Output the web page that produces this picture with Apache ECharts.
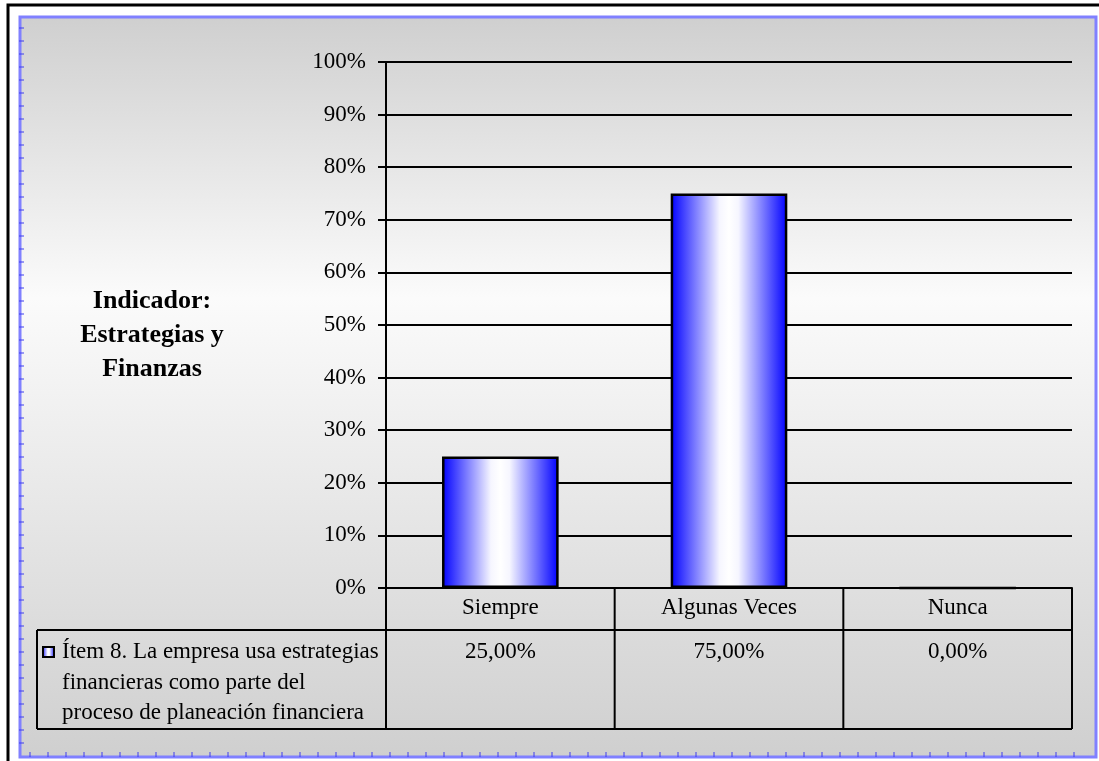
<!DOCTYPE html>
<html>
<head>
<meta charset="utf-8">
<title>Indicador: Estrategias y Finanzas</title>
<script src="https://cdn.jsdelivr.net/npm/echarts@6/dist/echarts.min.js"></script>
<style>
  html, body { margin: 0; padding: 0; background: #ffffff; }
  #chart { width: 1099px; height: 761px; }
</style>
</head>
<body>
<div id="chart"></div>
<script>
// Categories and percentages for item 8
const categories = ['Siempre', 'Algunas Veces', 'Nunca'];
const values = [25, 75, 0];
const yMin = 0;
const yMax = 100;
const yStep = 10;
const legendLines = ['Ítem 8. La empresa usa estrategias', 'financieras como parte del', 'proceso de planeación financiera'];
const titleLines = ['Indicador:', 'Estrategias y', 'Finanzas'];

const serif = "'Liberation Serif', 'Times New Roman', serif";
const barFill = {
  type: 'linear', x: 0, y: 0, x2: 1, y2: 0,
  colorStops: [
    { offset: 0, color: '#0000ff' },
    { offset: 0.42, color: '#f6f6ff' },
    { offset: 0.5, color: '#ffffff' },
    { offset: 0.58, color: '#f6f6ff' },
    { offset: 1, color: '#0000ff' }
  ]
};

const chart = echarts.init(document.getElementById('chart'), null, { renderer: 'canvas' });

chart.setOption({
  animation: false,
  backgroundColor: '#ffffff',
  grid: { left: 386, right: 27, top: 62, bottom: 173, containLabel: false },
  xAxis: {
    type: 'category',
    data: categories,
    axisLine: { show: true, lineStyle: { color: '#000', width: 2 } },
    axisTick: { show: false },
    axisLabel: { color: '#000', fontFamily: serif, fontSize: 23, margin: 8 },
    splitLine: { show: false }
  },
  yAxis: {
    type: 'value',
    min: yMin, max: yMax, interval: yStep,
    axisLine: { show: true, lineStyle: { color: '#000', width: 2 } },
    axisTick: { show: true, length: 8, lineStyle: { color: '#000', width: 2 } },
    axisLabel: { color: '#000', fontFamily: serif, fontSize: 23, margin: 20, formatter: '{value}%' },
    splitLine: { show: true, lineStyle: { color: '#000', width: 2 } }
  },
  series: [{
    type: 'bar',
    name: legendLines.join(' '),
    data: values,
    barWidth: '51%',
    itemStyle: { color: barFill, borderColor: '#000', borderWidth: 2.5 }
  }]
});

// Data table under the plot, placed from the axis scales
function drawTable() {
  const centers = categories.map((c, i) => chart.convertToPixel({ xAxisIndex: 0 }, i));
  const band = centers.length > 1 ? centers[1] - centers[0] : 200;
  const edges = [centers[0] - band / 2].concat(centers.map(c => c + band / 2));
  const y0 = chart.convertToPixel({ yAxisIndex: 0 }, yMin);
  const rowTop = y0 + 42;
  const rowBottom = y0 + 141;
  const tableLeft = 37;
  const line = (x1, y1, x2, y2) => ({
    type: 'line', z: 50,
    shape: { x1, y1, x2, y2 },
    style: { stroke: '#000', lineWidth: 2 }
  });

  const els = [
    // outer frame
    { type: 'rect', z: -30, shape: { x: 8, y: 5, width: 1200, height: 900 },
      style: { fill: '#ffffff', stroke: '#000', lineWidth: 3 } },
    // shaded plot canvas
    { type: 'rect', z: -20, shape: { x: 20, y: 17, width: 1076, height: 740 },
      style: {
        fill: { type: 'linear', x: 0, y: 0, x2: 0, y2: 1, colorStops: [
          { offset: 0, color: '#cfcfcf' },
          { offset: 0.38, color: '#fbfbfb' },
          { offset: 1, color: '#cfcfcf' }
        ] },
        stroke: '#8080ff', lineWidth: 3
      } }
  ];

  // small ruler marks on the canvas frame (left and bottom edges)
  for (let y = 28; y < 752; y += 13) {
    els.push({ type: 'line', z: -19, shape: { x1: 19, y1: y, x2: 24, y2: y },
      style: { stroke: '#3c3cf0', lineWidth: 1 } });
  }
  for (let x = 30; x < 1092; x += 18) {
    els.push({ type: 'line', z: -19, shape: { x1: x, y1: 752, x2: x, y2: 757 },
      style: { stroke: '#3c3cf0', lineWidth: 1 } });
  }

  edges.forEach(x => els.push(line(x, y0, x, rowBottom)));
  els.push(line(tableLeft, rowTop, edges[edges.length - 1], rowTop));
  els.push(line(tableLeft, rowBottom, edges[edges.length - 1], rowBottom));
  els.push(line(tableLeft, rowTop, tableLeft, rowBottom));

  values.forEach((v, i) => {
    els.push({
      type: 'text', z: 50,
      style: {
        x: centers[i], y: rowTop + 10,
        text: v.toFixed(2).replace('.', ',') + '%',
        textAlign: 'center', textVerticalAlign: 'top',
        font: '23px ' + serif, fill: '#000'
      }
    });
  });

  // legend key
  els.push({
    type: 'rect', z: 50,
    shape: { x: 43, y: 647, width: 11, height: 10 },
    style: { fill: barFill, stroke: '#000', lineWidth: 2 }
  });
  els.push({
    type: 'text', z: 50,
    style: {
      x: 62, y: rowTop + 7,
      text: legendLines.join('\n'),
      textAlign: 'left', textVerticalAlign: 'top',
      font: '23px ' + serif, lineHeight: 30.5, fill: '#000'
    }
  });

  // side caption
  els.push({
    type: 'text', z: 50,
    style: {
      x: 152, y: 284,
      text: titleLines.join('\n'),
      textAlign: 'center', textVerticalAlign: 'top',
      font: 'bold 26px ' + serif, lineHeight: 34, fill: '#000'
    }
  });

  chart.setOption({ graphic: { elements: els } });
}

drawTable();
</script>
</body>
</html>
